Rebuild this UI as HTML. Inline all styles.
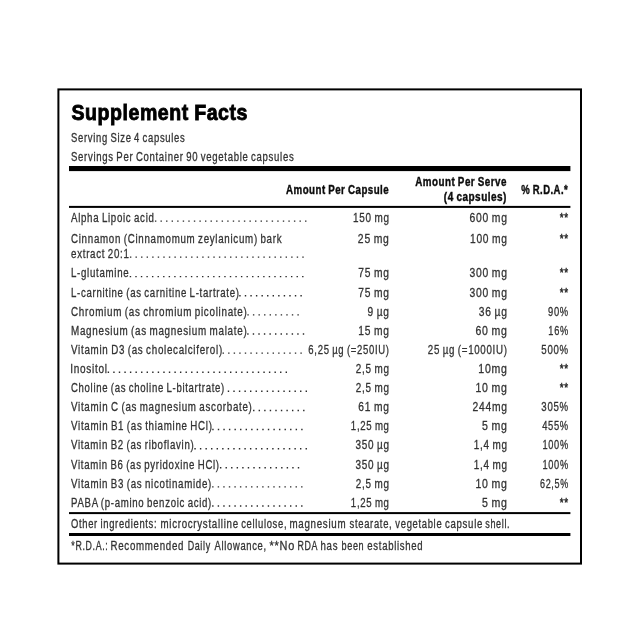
<!DOCTYPE html>
<html><head><meta charset="utf-8"><title>Supplement Facts</title>
<style>
html,body{margin:0;padding:0;background:#fff;}
body{width:640px;height:640px;overflow:hidden;}
svg{display:block;will-change:transform;filter:grayscale(1);font-family:"Liberation Sans",sans-serif;}
</style></head><body>
<svg width="640" height="640" viewBox="0 0 640 640">
<rect x="0" y="0" width="640" height="640" fill="#fff"/>
<rect x="58.4" y="89.4" width="522.6" height="474.2" fill="none" stroke="#000" stroke-width="2"/>
<rect x="69" y="166.0" width="501.40" height="5.10" fill="#000"/>
<rect x="69" y="205.9" width="501.40" height="2.00" fill="#000"/>
<rect x="69" y="512.1" width="501.40" height="2.00" fill="#000"/>
<rect x="69" y="533.0" width="501.40" height="3.00" fill="#000"/>
<text x="71.50" y="120.30" textLength="176.44" lengthAdjust="spacingAndGlyphs" font-size="21.2" fill="#000" font-weight="bold" stroke="#000" stroke-width="0.85" letter-spacing="0.6" word-spacing="-0.70">Supplement Facts</text>
<text x="71.00" y="142.10" textLength="114.44" lengthAdjust="spacingAndGlyphs" font-size="12.3" fill="#333" stroke="#333" stroke-width="0.3" letter-spacing="0.9" word-spacing="-1.00">Serving Size 4 capsules</text>
<text x="71.00" y="160.60" textLength="223.38" lengthAdjust="spacingAndGlyphs" font-size="12.3" fill="#333" stroke="#333" stroke-width="0.3" letter-spacing="0.9" word-spacing="-1.00">Servings Per Container 90 vegetable capsules</text>
<text x="286.08" y="194.00" textLength="103.07" lengthAdjust="spacingAndGlyphs" font-size="12.3" fill="#0c0c0c" font-weight="bold" stroke="#0c0c0c" stroke-width="0.4" letter-spacing="0.6" word-spacing="-0.70">Amount Per Capsule</text>
<text x="415.22" y="185.60" textLength="91.72" lengthAdjust="spacingAndGlyphs" font-size="12.3" fill="#0c0c0c" font-weight="bold" stroke="#0c0c0c" stroke-width="0.4" letter-spacing="0.6" word-spacing="-0.70">Amount Per Serve</text>
<text x="443.85" y="201.00" textLength="63.09" lengthAdjust="spacingAndGlyphs" font-size="12.3" fill="#0c0c0c" font-weight="bold" stroke="#0c0c0c" stroke-width="0.4" letter-spacing="0.6" word-spacing="-0.70">(4 capsules)</text>
<text x="521.22" y="194.00" textLength="47.00" lengthAdjust="spacingAndGlyphs" font-size="12.3" fill="#0c0c0c" font-weight="bold" stroke="#0c0c0c" stroke-width="0.4" letter-spacing="0.6" word-spacing="-0.70">% R.D.A.*</text>
<text x="71.00" y="242.60" textLength="211.30" lengthAdjust="spacingAndGlyphs" font-size="12.3" fill="#333" stroke="#333" stroke-width="0.3" letter-spacing="0.9" word-spacing="-1.00">Cinnamon (Cinnamomum zeylanicum) bark</text>
<text x="357.85" y="242.60" textLength="31.81" lengthAdjust="spacingAndGlyphs" font-size="12.3" fill="#333" stroke="#333" stroke-width="0.3" letter-spacing="0.9" word-spacing="-1.00">25 mg</text>
<text x="470.00" y="242.60" textLength="37.74" lengthAdjust="spacingAndGlyphs" font-size="12.3" fill="#333" stroke="#333" stroke-width="0.3" letter-spacing="0.9" word-spacing="-1.00">100 mg</text>
<text x="559.65" y="242.60" textLength="9.15" lengthAdjust="spacingAndGlyphs" font-size="13.2" fill="#222" stroke="#222" stroke-width="0.45" letter-spacing="0.9" word-spacing="-1.00">**</text>
<path d="M154.93 220.40h1.4v1.4h-1.4z M160.49 220.40h1.4v1.4h-1.4z M166.05 220.40h1.4v1.4h-1.4z M171.61 220.40h1.4v1.4h-1.4z M177.17 220.40h1.4v1.4h-1.4z M182.73 220.40h1.4v1.4h-1.4z M188.29 220.40h1.4v1.4h-1.4z M193.85 220.40h1.4v1.4h-1.4z M199.41 220.40h1.4v1.4h-1.4z M204.97 220.40h1.4v1.4h-1.4z M210.53 220.40h1.4v1.4h-1.4z M216.09 220.40h1.4v1.4h-1.4z M221.65 220.40h1.4v1.4h-1.4z M227.21 220.40h1.4v1.4h-1.4z M232.77 220.40h1.4v1.4h-1.4z M238.33 220.40h1.4v1.4h-1.4z M243.89 220.40h1.4v1.4h-1.4z M249.45 220.40h1.4v1.4h-1.4z M255.01 220.40h1.4v1.4h-1.4z M260.57 220.40h1.4v1.4h-1.4z M266.13 220.40h1.4v1.4h-1.4z M271.69 220.40h1.4v1.4h-1.4z M277.25 220.40h1.4v1.4h-1.4z M282.81 220.40h1.4v1.4h-1.4z M288.37 220.40h1.4v1.4h-1.4z M293.93 220.40h1.4v1.4h-1.4z M299.49 220.40h1.4v1.4h-1.4z M305.05 220.40h1.4v1.4h-1.4z" fill="#2a2a2a"/>
<text x="71.00" y="221.90" textLength="83.61" lengthAdjust="spacingAndGlyphs" font-size="12.3" fill="#333" stroke="#333" stroke-width="0.3" letter-spacing="0.9" word-spacing="-1.00">Alpha Lipoic acid</text>
<text x="353.00" y="221.90" textLength="36.66" lengthAdjust="spacingAndGlyphs" font-size="12.3" fill="#333" stroke="#333" stroke-width="0.3" letter-spacing="0.9" word-spacing="-1.00">150 mg</text>
<text x="469.50" y="221.90" textLength="38.24" lengthAdjust="spacingAndGlyphs" font-size="12.3" fill="#333" stroke="#333" stroke-width="0.3" letter-spacing="0.9" word-spacing="-1.00">600 mg</text>
<text x="559.65" y="221.90" textLength="9.15" lengthAdjust="spacingAndGlyphs" font-size="13.2" fill="#222" stroke="#222" stroke-width="0.45" letter-spacing="0.9" word-spacing="-1.00">**</text>
<path d="M129.94 256.40h1.4v1.4h-1.4z M135.50 256.40h1.4v1.4h-1.4z M141.06 256.40h1.4v1.4h-1.4z M146.62 256.40h1.4v1.4h-1.4z M152.18 256.40h1.4v1.4h-1.4z M157.74 256.40h1.4v1.4h-1.4z M163.30 256.40h1.4v1.4h-1.4z M168.86 256.40h1.4v1.4h-1.4z M174.42 256.40h1.4v1.4h-1.4z M179.98 256.40h1.4v1.4h-1.4z M185.54 256.40h1.4v1.4h-1.4z M191.10 256.40h1.4v1.4h-1.4z M196.66 256.40h1.4v1.4h-1.4z M202.22 256.40h1.4v1.4h-1.4z M207.78 256.40h1.4v1.4h-1.4z M213.34 256.40h1.4v1.4h-1.4z M218.90 256.40h1.4v1.4h-1.4z M224.46 256.40h1.4v1.4h-1.4z M230.02 256.40h1.4v1.4h-1.4z M235.58 256.40h1.4v1.4h-1.4z M241.14 256.40h1.4v1.4h-1.4z M246.70 256.40h1.4v1.4h-1.4z M252.26 256.40h1.4v1.4h-1.4z M257.82 256.40h1.4v1.4h-1.4z M263.38 256.40h1.4v1.4h-1.4z M268.94 256.40h1.4v1.4h-1.4z M274.50 256.40h1.4v1.4h-1.4z M280.06 256.40h1.4v1.4h-1.4z M285.62 256.40h1.4v1.4h-1.4z M291.18 256.40h1.4v1.4h-1.4z M296.74 256.40h1.4v1.4h-1.4z M302.30 256.40h1.4v1.4h-1.4z" fill="#2a2a2a"/>
<text x="71.00" y="257.90" textLength="58.67" lengthAdjust="spacingAndGlyphs" font-size="12.3" fill="#333" stroke="#333" stroke-width="0.3" letter-spacing="0.9" word-spacing="-1.00">extract 20:1</text>
<path d="M129.74 275.90h1.4v1.4h-1.4z M135.30 275.90h1.4v1.4h-1.4z M140.86 275.90h1.4v1.4h-1.4z M146.42 275.90h1.4v1.4h-1.4z M151.98 275.90h1.4v1.4h-1.4z M157.54 275.90h1.4v1.4h-1.4z M163.10 275.90h1.4v1.4h-1.4z M168.66 275.90h1.4v1.4h-1.4z M174.22 275.90h1.4v1.4h-1.4z M179.78 275.90h1.4v1.4h-1.4z M185.34 275.90h1.4v1.4h-1.4z M190.90 275.90h1.4v1.4h-1.4z M196.46 275.90h1.4v1.4h-1.4z M202.02 275.90h1.4v1.4h-1.4z M207.58 275.90h1.4v1.4h-1.4z M213.14 275.90h1.4v1.4h-1.4z M218.70 275.90h1.4v1.4h-1.4z M224.26 275.90h1.4v1.4h-1.4z M229.82 275.90h1.4v1.4h-1.4z M235.38 275.90h1.4v1.4h-1.4z M240.94 275.90h1.4v1.4h-1.4z M246.50 275.90h1.4v1.4h-1.4z M252.06 275.90h1.4v1.4h-1.4z M257.62 275.90h1.4v1.4h-1.4z M263.18 275.90h1.4v1.4h-1.4z M268.74 275.90h1.4v1.4h-1.4z M274.30 275.90h1.4v1.4h-1.4z M279.86 275.90h1.4v1.4h-1.4z M285.42 275.90h1.4v1.4h-1.4z M290.98 275.90h1.4v1.4h-1.4z M296.54 275.90h1.4v1.4h-1.4z M302.10 275.90h1.4v1.4h-1.4z" fill="#2a2a2a"/>
<text x="71.00" y="277.40" textLength="58.31" lengthAdjust="spacingAndGlyphs" font-size="12.3" fill="#333" stroke="#333" stroke-width="0.3" letter-spacing="0.9" word-spacing="-1.00">L-glutamine</text>
<text x="358.35" y="277.40" textLength="31.31" lengthAdjust="spacingAndGlyphs" font-size="12.3" fill="#333" stroke="#333" stroke-width="0.3" letter-spacing="0.9" word-spacing="-1.00">75 mg</text>
<text x="469.50" y="277.40" textLength="38.24" lengthAdjust="spacingAndGlyphs" font-size="12.3" fill="#333" stroke="#333" stroke-width="0.3" letter-spacing="0.9" word-spacing="-1.00">300 mg</text>
<text x="559.65" y="277.40" textLength="9.15" lengthAdjust="spacingAndGlyphs" font-size="13.2" fill="#222" stroke="#222" stroke-width="0.45" letter-spacing="0.9" word-spacing="-1.00">**</text>
<path d="M239.24 295.02h1.4v1.4h-1.4z M244.80 295.02h1.4v1.4h-1.4z M250.36 295.02h1.4v1.4h-1.4z M255.92 295.02h1.4v1.4h-1.4z M261.48 295.02h1.4v1.4h-1.4z M267.04 295.02h1.4v1.4h-1.4z M272.60 295.02h1.4v1.4h-1.4z M278.16 295.02h1.4v1.4h-1.4z M283.72 295.02h1.4v1.4h-1.4z M289.28 295.02h1.4v1.4h-1.4z M294.84 295.02h1.4v1.4h-1.4z M300.40 295.02h1.4v1.4h-1.4z" fill="#2a2a2a"/>
<text x="71.00" y="296.52" textLength="168.61" lengthAdjust="spacingAndGlyphs" font-size="12.3" fill="#333" stroke="#333" stroke-width="0.3" letter-spacing="0.9" word-spacing="-1.00">L-carnitine (as carnitine L-tartrate)</text>
<text x="358.35" y="296.52" textLength="31.31" lengthAdjust="spacingAndGlyphs" font-size="12.3" fill="#333" stroke="#333" stroke-width="0.3" letter-spacing="0.9" word-spacing="-1.00">75 mg</text>
<text x="469.50" y="296.52" textLength="38.24" lengthAdjust="spacingAndGlyphs" font-size="12.3" fill="#333" stroke="#333" stroke-width="0.3" letter-spacing="0.9" word-spacing="-1.00">300 mg</text>
<text x="559.65" y="296.52" textLength="9.15" lengthAdjust="spacingAndGlyphs" font-size="13.2" fill="#222" stroke="#222" stroke-width="0.45" letter-spacing="0.9" word-spacing="-1.00">**</text>
<path d="M247.36 314.14h1.4v1.4h-1.4z M252.92 314.14h1.4v1.4h-1.4z M258.48 314.14h1.4v1.4h-1.4z M264.04 314.14h1.4v1.4h-1.4z M269.60 314.14h1.4v1.4h-1.4z M275.16 314.14h1.4v1.4h-1.4z M280.72 314.14h1.4v1.4h-1.4z M286.28 314.14h1.4v1.4h-1.4z M291.84 314.14h1.4v1.4h-1.4z M297.40 314.14h1.4v1.4h-1.4z" fill="#2a2a2a"/>
<text x="71.00" y="315.64" textLength="176.51" lengthAdjust="spacingAndGlyphs" font-size="12.3" fill="#333" stroke="#333" stroke-width="0.3" letter-spacing="0.9" word-spacing="-1.00">Chromium (as chromium picolinate)</text>
<text x="367.50" y="315.64" textLength="22.16" lengthAdjust="spacingAndGlyphs" font-size="12.3" fill="#333" stroke="#333" stroke-width="0.3" letter-spacing="0.9" word-spacing="-1.00">9 µg</text>
<text x="478.85" y="315.64" textLength="28.89" lengthAdjust="spacingAndGlyphs" font-size="12.3" fill="#333" stroke="#333" stroke-width="0.3" letter-spacing="0.9" word-spacing="-1.00">36 µg</text>
<text x="548.00" y="315.64" textLength="20.80" lengthAdjust="spacingAndGlyphs" font-size="12.3" fill="#333" stroke="#333" stroke-width="0.3" letter-spacing="0.9" word-spacing="-1.00">90%</text>
<path d="M247.20 333.26h1.4v1.4h-1.4z M252.76 333.26h1.4v1.4h-1.4z M258.32 333.26h1.4v1.4h-1.4z M263.88 333.26h1.4v1.4h-1.4z M269.44 333.26h1.4v1.4h-1.4z M275.00 333.26h1.4v1.4h-1.4z M280.56 333.26h1.4v1.4h-1.4z M286.12 333.26h1.4v1.4h-1.4z M291.68 333.26h1.4v1.4h-1.4z M297.24 333.26h1.4v1.4h-1.4z M302.80 333.26h1.4v1.4h-1.4z" fill="#2a2a2a"/>
<text x="71.00" y="334.76" textLength="176.38" lengthAdjust="spacingAndGlyphs" font-size="12.3" fill="#333" stroke="#333" stroke-width="0.3" letter-spacing="0.9" word-spacing="-1.00">Magnesium (as magnesium malate)</text>
<text x="358.35" y="334.76" textLength="31.31" lengthAdjust="spacingAndGlyphs" font-size="12.3" fill="#333" stroke="#333" stroke-width="0.3" letter-spacing="0.9" word-spacing="-1.00">15 mg</text>
<text x="475.50" y="334.76" textLength="32.24" lengthAdjust="spacingAndGlyphs" font-size="12.3" fill="#333" stroke="#333" stroke-width="0.3" letter-spacing="0.9" word-spacing="-1.00">60 mg</text>
<text x="548.35" y="334.76" textLength="20.45" lengthAdjust="spacingAndGlyphs" font-size="12.3" fill="#333" stroke="#333" stroke-width="0.3" letter-spacing="0.9" word-spacing="-1.00">16%</text>
<path d="M222.56 352.38h1.4v1.4h-1.4z M228.12 352.38h1.4v1.4h-1.4z M233.68 352.38h1.4v1.4h-1.4z M239.24 352.38h1.4v1.4h-1.4z M244.80 352.38h1.4v1.4h-1.4z M250.36 352.38h1.4v1.4h-1.4z M255.92 352.38h1.4v1.4h-1.4z M261.48 352.38h1.4v1.4h-1.4z M267.04 352.38h1.4v1.4h-1.4z M272.60 352.38h1.4v1.4h-1.4z M278.16 352.38h1.4v1.4h-1.4z M283.72 352.38h1.4v1.4h-1.4z M289.28 352.38h1.4v1.4h-1.4z M294.84 352.38h1.4v1.4h-1.4z M300.40 352.38h1.4v1.4h-1.4z" fill="#2a2a2a"/>
<text x="71.00" y="353.88" textLength="151.87" lengthAdjust="spacingAndGlyphs" font-size="12.3" fill="#333" stroke="#333" stroke-width="0.3" letter-spacing="0.9" word-spacing="-1.00">Vitamin D3 (as cholecalciferol)</text>
<text x="308.35" y="353.88" textLength="81.31" lengthAdjust="spacingAndGlyphs" font-size="12.3" fill="#333" stroke="#333" stroke-width="0.3" letter-spacing="0.9" word-spacing="-1.00">6,25 µg (=250IU)</text>
<text x="427.85" y="353.88" textLength="79.89" lengthAdjust="spacingAndGlyphs" font-size="12.3" fill="#333" stroke="#333" stroke-width="0.3" letter-spacing="0.9" word-spacing="-1.00">25 µg (=1000IU)</text>
<text x="541.35" y="353.88" textLength="27.45" lengthAdjust="spacingAndGlyphs" font-size="12.3" fill="#333" stroke="#333" stroke-width="0.3" letter-spacing="0.9" word-spacing="-1.00">500%</text>
<path d="M107.68 371.50h1.4v1.4h-1.4z M113.24 371.50h1.4v1.4h-1.4z M118.80 371.50h1.4v1.4h-1.4z M124.36 371.50h1.4v1.4h-1.4z M129.92 371.50h1.4v1.4h-1.4z M135.48 371.50h1.4v1.4h-1.4z M141.04 371.50h1.4v1.4h-1.4z M146.60 371.50h1.4v1.4h-1.4z M152.16 371.50h1.4v1.4h-1.4z M157.72 371.50h1.4v1.4h-1.4z M163.28 371.50h1.4v1.4h-1.4z M168.84 371.50h1.4v1.4h-1.4z M174.40 371.50h1.4v1.4h-1.4z M179.96 371.50h1.4v1.4h-1.4z M185.52 371.50h1.4v1.4h-1.4z M191.08 371.50h1.4v1.4h-1.4z M196.64 371.50h1.4v1.4h-1.4z M202.20 371.50h1.4v1.4h-1.4z M207.76 371.50h1.4v1.4h-1.4z M213.32 371.50h1.4v1.4h-1.4z M218.88 371.50h1.4v1.4h-1.4z M224.44 371.50h1.4v1.4h-1.4z M230.00 371.50h1.4v1.4h-1.4z M235.56 371.50h1.4v1.4h-1.4z M241.12 371.50h1.4v1.4h-1.4z M246.68 371.50h1.4v1.4h-1.4z M252.24 371.50h1.4v1.4h-1.4z M257.80 371.50h1.4v1.4h-1.4z M263.36 371.50h1.4v1.4h-1.4z M268.92 371.50h1.4v1.4h-1.4z M274.48 371.50h1.4v1.4h-1.4z M280.04 371.50h1.4v1.4h-1.4z M285.60 371.50h1.4v1.4h-1.4z" fill="#2a2a2a"/>
<text x="70.20" y="373.00" textLength="37.56" lengthAdjust="spacingAndGlyphs" font-size="12.3" fill="#333" stroke="#333" stroke-width="0.3" letter-spacing="0.9" word-spacing="-1.00">Inositol</text>
<text x="355.85" y="373.00" textLength="33.81" lengthAdjust="spacingAndGlyphs" font-size="12.3" fill="#333" stroke="#333" stroke-width="0.3" letter-spacing="0.9" word-spacing="-1.00">2,5 mg</text>
<text x="478.35" y="373.00" textLength="29.39" lengthAdjust="spacingAndGlyphs" font-size="12.3" fill="#333" stroke="#333" stroke-width="0.3" letter-spacing="0.9" word-spacing="-1.00">10mg</text>
<text x="559.65" y="373.00" textLength="9.15" lengthAdjust="spacingAndGlyphs" font-size="13.2" fill="#222" stroke="#222" stroke-width="0.45" letter-spacing="0.9" word-spacing="-1.00">**</text>
<path d="M227.76 390.62h1.4v1.4h-1.4z M233.32 390.62h1.4v1.4h-1.4z M238.88 390.62h1.4v1.4h-1.4z M244.44 390.62h1.4v1.4h-1.4z M250.00 390.62h1.4v1.4h-1.4z M255.56 390.62h1.4v1.4h-1.4z M261.12 390.62h1.4v1.4h-1.4z M266.68 390.62h1.4v1.4h-1.4z M272.24 390.62h1.4v1.4h-1.4z M277.80 390.62h1.4v1.4h-1.4z M283.36 390.62h1.4v1.4h-1.4z M288.92 390.62h1.4v1.4h-1.4z M294.48 390.62h1.4v1.4h-1.4z M300.04 390.62h1.4v1.4h-1.4z M305.60 390.62h1.4v1.4h-1.4z" fill="#2a2a2a"/>
<text x="71.00" y="392.12" textLength="153.95" lengthAdjust="spacingAndGlyphs" font-size="12.3" fill="#333" stroke="#333" stroke-width="0.3" letter-spacing="0.9" word-spacing="-1.00">Choline (as choline L-bitartrate)</text>
<text x="355.85" y="392.12" textLength="33.81" lengthAdjust="spacingAndGlyphs" font-size="12.3" fill="#333" stroke="#333" stroke-width="0.3" letter-spacing="0.9" word-spacing="-1.00">2,5 mg</text>
<text x="475.50" y="392.12" textLength="32.24" lengthAdjust="spacingAndGlyphs" font-size="12.3" fill="#333" stroke="#333" stroke-width="0.3" letter-spacing="0.9" word-spacing="-1.00">10 mg</text>
<text x="559.65" y="392.12" textLength="9.15" lengthAdjust="spacingAndGlyphs" font-size="13.2" fill="#222" stroke="#222" stroke-width="0.45" letter-spacing="0.9" word-spacing="-1.00">**</text>
<path d="M253.06 409.74h1.4v1.4h-1.4z M258.62 409.74h1.4v1.4h-1.4z M264.18 409.74h1.4v1.4h-1.4z M269.74 409.74h1.4v1.4h-1.4z M275.30 409.74h1.4v1.4h-1.4z M280.86 409.74h1.4v1.4h-1.4z M286.42 409.74h1.4v1.4h-1.4z M291.98 409.74h1.4v1.4h-1.4z M297.54 409.74h1.4v1.4h-1.4z M303.10 409.74h1.4v1.4h-1.4z" fill="#2a2a2a"/>
<text x="71.00" y="411.24" textLength="181.57" lengthAdjust="spacingAndGlyphs" font-size="12.3" fill="#333" stroke="#333" stroke-width="0.3" letter-spacing="0.9" word-spacing="-1.00">Vitamin C (as magnesium ascorbate)</text>
<text x="358.35" y="411.24" textLength="31.31" lengthAdjust="spacingAndGlyphs" font-size="12.3" fill="#333" stroke="#333" stroke-width="0.3" letter-spacing="0.9" word-spacing="-1.00">61 mg</text>
<text x="472.50" y="411.24" textLength="35.24" lengthAdjust="spacingAndGlyphs" font-size="12.3" fill="#333" stroke="#333" stroke-width="0.3" letter-spacing="0.9" word-spacing="-1.00">244mg</text>
<text x="541.35" y="411.24" textLength="27.45" lengthAdjust="spacingAndGlyphs" font-size="12.3" fill="#333" stroke="#333" stroke-width="0.3" letter-spacing="0.9" word-spacing="-1.00">305%</text>
<path d="M212.24 428.86h1.4v1.4h-1.4z M217.80 428.86h1.4v1.4h-1.4z M223.36 428.86h1.4v1.4h-1.4z M228.92 428.86h1.4v1.4h-1.4z M234.48 428.86h1.4v1.4h-1.4z M240.04 428.86h1.4v1.4h-1.4z M245.60 428.86h1.4v1.4h-1.4z M251.16 428.86h1.4v1.4h-1.4z M256.72 428.86h1.4v1.4h-1.4z M262.28 428.86h1.4v1.4h-1.4z M267.84 428.86h1.4v1.4h-1.4z M273.40 428.86h1.4v1.4h-1.4z M278.96 428.86h1.4v1.4h-1.4z M284.52 428.86h1.4v1.4h-1.4z M290.08 428.86h1.4v1.4h-1.4z M295.64 428.86h1.4v1.4h-1.4z M301.20 428.86h1.4v1.4h-1.4z" fill="#2a2a2a"/>
<text x="71.00" y="430.36" textLength="141.61" lengthAdjust="spacingAndGlyphs" font-size="12.3" fill="#333" stroke="#333" stroke-width="0.3" letter-spacing="0.9" word-spacing="-1.00">Vitamin B1 (as thiamine HCl)</text>
<text x="350.85" y="430.36" textLength="38.81" lengthAdjust="spacingAndGlyphs" font-size="12.3" fill="#333" stroke="#333" stroke-width="0.3" letter-spacing="0.9" word-spacing="-1.00">1,25 mg</text>
<text x="482.00" y="430.36" textLength="25.74" lengthAdjust="spacingAndGlyphs" font-size="12.3" fill="#333" stroke="#333" stroke-width="0.3" letter-spacing="0.9" word-spacing="-1.00">5 mg</text>
<text x="542.15" y="430.36" textLength="26.65" lengthAdjust="spacingAndGlyphs" font-size="12.3" fill="#333" stroke="#333" stroke-width="0.3" letter-spacing="0.9" word-spacing="-1.00">455%</text>
<path d="M194.35 447.98h1.4v1.4h-1.4z M199.91 447.98h1.4v1.4h-1.4z M205.47 447.98h1.4v1.4h-1.4z M211.03 447.98h1.4v1.4h-1.4z M216.59 447.98h1.4v1.4h-1.4z M222.15 447.98h1.4v1.4h-1.4z M227.71 447.98h1.4v1.4h-1.4z M233.27 447.98h1.4v1.4h-1.4z M238.83 447.98h1.4v1.4h-1.4z M244.39 447.98h1.4v1.4h-1.4z M249.95 447.98h1.4v1.4h-1.4z M255.51 447.98h1.4v1.4h-1.4z M261.07 447.98h1.4v1.4h-1.4z M266.63 447.98h1.4v1.4h-1.4z M272.19 447.98h1.4v1.4h-1.4z M277.75 447.98h1.4v1.4h-1.4z M283.31 447.98h1.4v1.4h-1.4z M288.87 447.98h1.4v1.4h-1.4z M294.43 447.98h1.4v1.4h-1.4z M299.99 447.98h1.4v1.4h-1.4z M305.55 447.98h1.4v1.4h-1.4z" fill="#2a2a2a"/>
<text x="71.00" y="449.48" textLength="123.45" lengthAdjust="spacingAndGlyphs" font-size="12.3" fill="#333" stroke="#333" stroke-width="0.3" letter-spacing="0.9" word-spacing="-1.00">Vitamin B2 (as riboflavin)</text>
<text x="355.50" y="449.48" textLength="34.16" lengthAdjust="spacingAndGlyphs" font-size="12.3" fill="#333" stroke="#333" stroke-width="0.3" letter-spacing="0.9" word-spacing="-1.00">350 µg</text>
<text x="473.85" y="449.48" textLength="33.89" lengthAdjust="spacingAndGlyphs" font-size="12.3" fill="#333" stroke="#333" stroke-width="0.3" letter-spacing="0.9" word-spacing="-1.00">1,4 mg</text>
<text x="542.50" y="449.48" textLength="26.30" lengthAdjust="spacingAndGlyphs" font-size="12.3" fill="#333" stroke="#333" stroke-width="0.3" letter-spacing="0.9" word-spacing="-1.00">100%</text>
<path d="M219.96 467.10h1.4v1.4h-1.4z M225.52 467.10h1.4v1.4h-1.4z M231.08 467.10h1.4v1.4h-1.4z M236.64 467.10h1.4v1.4h-1.4z M242.20 467.10h1.4v1.4h-1.4z M247.76 467.10h1.4v1.4h-1.4z M253.32 467.10h1.4v1.4h-1.4z M258.88 467.10h1.4v1.4h-1.4z M264.44 467.10h1.4v1.4h-1.4z M270.00 467.10h1.4v1.4h-1.4z M275.56 467.10h1.4v1.4h-1.4z M281.12 467.10h1.4v1.4h-1.4z M286.68 467.10h1.4v1.4h-1.4z M292.24 467.10h1.4v1.4h-1.4z M297.80 467.10h1.4v1.4h-1.4z" fill="#2a2a2a"/>
<text x="71.00" y="468.60" textLength="148.79" lengthAdjust="spacingAndGlyphs" font-size="12.3" fill="#333" stroke="#333" stroke-width="0.3" letter-spacing="0.9" word-spacing="-1.00">Vitamin B6 (as pyridoxine HCl)</text>
<text x="355.50" y="468.60" textLength="34.16" lengthAdjust="spacingAndGlyphs" font-size="12.3" fill="#333" stroke="#333" stroke-width="0.3" letter-spacing="0.9" word-spacing="-1.00">350 µg</text>
<text x="473.85" y="468.60" textLength="33.89" lengthAdjust="spacingAndGlyphs" font-size="12.3" fill="#333" stroke="#333" stroke-width="0.3" letter-spacing="0.9" word-spacing="-1.00">1,4 mg</text>
<text x="542.50" y="468.60" textLength="26.30" lengthAdjust="spacingAndGlyphs" font-size="12.3" fill="#333" stroke="#333" stroke-width="0.3" letter-spacing="0.9" word-spacing="-1.00">100%</text>
<path d="M212.14 486.22h1.4v1.4h-1.4z M217.70 486.22h1.4v1.4h-1.4z M223.26 486.22h1.4v1.4h-1.4z M228.82 486.22h1.4v1.4h-1.4z M234.38 486.22h1.4v1.4h-1.4z M239.94 486.22h1.4v1.4h-1.4z M245.50 486.22h1.4v1.4h-1.4z M251.06 486.22h1.4v1.4h-1.4z M256.62 486.22h1.4v1.4h-1.4z M262.18 486.22h1.4v1.4h-1.4z M267.74 486.22h1.4v1.4h-1.4z M273.30 486.22h1.4v1.4h-1.4z M278.86 486.22h1.4v1.4h-1.4z M284.42 486.22h1.4v1.4h-1.4z M289.98 486.22h1.4v1.4h-1.4z M295.54 486.22h1.4v1.4h-1.4z M301.10 486.22h1.4v1.4h-1.4z" fill="#2a2a2a"/>
<text x="71.00" y="487.72" textLength="141.03" lengthAdjust="spacingAndGlyphs" font-size="12.3" fill="#333" stroke="#333" stroke-width="0.3" letter-spacing="0.9" word-spacing="-1.00">Vitamin B3 (as nicotinamide)</text>
<text x="355.85" y="487.72" textLength="33.81" lengthAdjust="spacingAndGlyphs" font-size="12.3" fill="#333" stroke="#333" stroke-width="0.3" letter-spacing="0.9" word-spacing="-1.00">2,5 mg</text>
<text x="475.50" y="487.72" textLength="32.24" lengthAdjust="spacingAndGlyphs" font-size="12.3" fill="#333" stroke="#333" stroke-width="0.3" letter-spacing="0.9" word-spacing="-1.00">10 mg</text>
<text x="540.00" y="487.72" textLength="28.80" lengthAdjust="spacingAndGlyphs" font-size="12.3" fill="#333" stroke="#333" stroke-width="0.3" letter-spacing="0.9" word-spacing="-1.00">62,5%</text>
<path d="M212.14 505.34h1.4v1.4h-1.4z M217.70 505.34h1.4v1.4h-1.4z M223.26 505.34h1.4v1.4h-1.4z M228.82 505.34h1.4v1.4h-1.4z M234.38 505.34h1.4v1.4h-1.4z M239.94 505.34h1.4v1.4h-1.4z M245.50 505.34h1.4v1.4h-1.4z M251.06 505.34h1.4v1.4h-1.4z M256.62 505.34h1.4v1.4h-1.4z M262.18 505.34h1.4v1.4h-1.4z M267.74 505.34h1.4v1.4h-1.4z M273.30 505.34h1.4v1.4h-1.4z M278.86 505.34h1.4v1.4h-1.4z M284.42 505.34h1.4v1.4h-1.4z M289.98 505.34h1.4v1.4h-1.4z M295.54 505.34h1.4v1.4h-1.4z M301.10 505.34h1.4v1.4h-1.4z" fill="#2a2a2a"/>
<text x="71.00" y="506.84" textLength="141.03" lengthAdjust="spacingAndGlyphs" font-size="12.3" fill="#333" stroke="#333" stroke-width="0.3" letter-spacing="0.9" word-spacing="-1.00">PABA (p-amino benzoic acid)</text>
<text x="350.85" y="506.84" textLength="38.81" lengthAdjust="spacingAndGlyphs" font-size="12.3" fill="#333" stroke="#333" stroke-width="0.3" letter-spacing="0.9" word-spacing="-1.00">1,25 mg</text>
<text x="482.00" y="506.84" textLength="25.74" lengthAdjust="spacingAndGlyphs" font-size="12.3" fill="#333" stroke="#333" stroke-width="0.3" letter-spacing="0.9" word-spacing="-1.00">5 mg</text>
<text x="559.65" y="506.84" textLength="9.15" lengthAdjust="spacingAndGlyphs" font-size="13.2" fill="#222" stroke="#222" stroke-width="0.45" letter-spacing="0.9" word-spacing="-1.00">**</text>
<text x="71.00" y="527.80" textLength="86.30" lengthAdjust="spacingAndGlyphs" font-size="12.3" fill="#333" stroke="#333" stroke-width="0.3" letter-spacing="0.9" word-spacing="-1.00">Other ingredients:</text>
<text x="160.50" y="527.80" textLength="78.30" lengthAdjust="spacingAndGlyphs" font-size="12.3" fill="#333" stroke="#333" stroke-width="0.3" letter-spacing="0.9" word-spacing="-1.00">microcrystalline</text>
<text x="241.14" y="527.80" textLength="46.10" lengthAdjust="spacingAndGlyphs" font-size="12.3" fill="#333" stroke="#333" stroke-width="0.3" letter-spacing="0.9" word-spacing="-1.00">cellulose,</text>
<text x="289.50" y="527.80" textLength="56.80" lengthAdjust="spacingAndGlyphs" font-size="12.3" fill="#333" stroke="#333" stroke-width="0.3" letter-spacing="0.9" word-spacing="-1.00">magnesium</text>
<text x="349.50" y="527.80" textLength="42.88" lengthAdjust="spacingAndGlyphs" font-size="12.3" fill="#333" stroke="#333" stroke-width="0.3" letter-spacing="0.9" word-spacing="-1.00">stearate,</text>
<text x="395.36" y="527.80" textLength="46.94" lengthAdjust="spacingAndGlyphs" font-size="12.3" fill="#333" stroke="#333" stroke-width="0.3" letter-spacing="0.9" word-spacing="-1.00">vegetable</text>
<text x="445.00" y="527.80" textLength="38.02" lengthAdjust="spacingAndGlyphs" font-size="12.3" fill="#333" stroke="#333" stroke-width="0.3" letter-spacing="0.9" word-spacing="-1.00">capsule</text>
<text x="485.28" y="527.80" textLength="25.02" lengthAdjust="spacingAndGlyphs" font-size="12.3" fill="#333" stroke="#333" stroke-width="0.3" letter-spacing="0.9" word-spacing="-1.00">shell.</text>
<text x="71.36" y="549.60" textLength="37.02" lengthAdjust="spacingAndGlyphs" font-size="12.3" fill="#333" stroke="#333" stroke-width="0.3" letter-spacing="0.9" word-spacing="-1.00">*R.D.A.:</text>
<text x="110.56" y="549.60" textLength="73.60" lengthAdjust="spacingAndGlyphs" font-size="12.3" fill="#333" stroke="#333" stroke-width="0.3" letter-spacing="0.9" word-spacing="-1.00">Recommended</text>
<text x="187.64" y="549.60" textLength="23.16" lengthAdjust="spacingAndGlyphs" font-size="12.3" fill="#333" stroke="#333" stroke-width="0.3" letter-spacing="0.9" word-spacing="-1.00">Daily</text>
<text x="214.50" y="549.60" textLength="52.30" lengthAdjust="spacingAndGlyphs" font-size="12.3" fill="#333" stroke="#333" stroke-width="0.3" letter-spacing="0.9" word-spacing="-1.00">Allowance,</text>
<text x="269.50" y="549.60" textLength="25.66" lengthAdjust="spacingAndGlyphs" font-size="12.3" fill="#333" stroke="#333" stroke-width="0.3" letter-spacing="0.9" word-spacing="-1.00">**No</text>
<text x="297.50" y="549.60" textLength="20.66" lengthAdjust="spacingAndGlyphs" font-size="12.3" fill="#333" stroke="#333" stroke-width="0.3" letter-spacing="0.9" word-spacing="-1.00">RDA</text>
<text x="320.50" y="549.60" textLength="17.66" lengthAdjust="spacingAndGlyphs" font-size="12.3" fill="#333" stroke="#333" stroke-width="0.3" letter-spacing="0.9" word-spacing="-1.00">has</text>
<text x="341.50" y="549.60" textLength="22.80" lengthAdjust="spacingAndGlyphs" font-size="12.3" fill="#333" stroke="#333" stroke-width="0.3" letter-spacing="0.9" word-spacing="-1.00">been</text>
<text x="367.36" y="549.60" textLength="55.94" lengthAdjust="spacingAndGlyphs" font-size="12.3" fill="#333" stroke="#333" stroke-width="0.3" letter-spacing="0.9" word-spacing="-1.00">established</text>
</svg>
</body></html>
